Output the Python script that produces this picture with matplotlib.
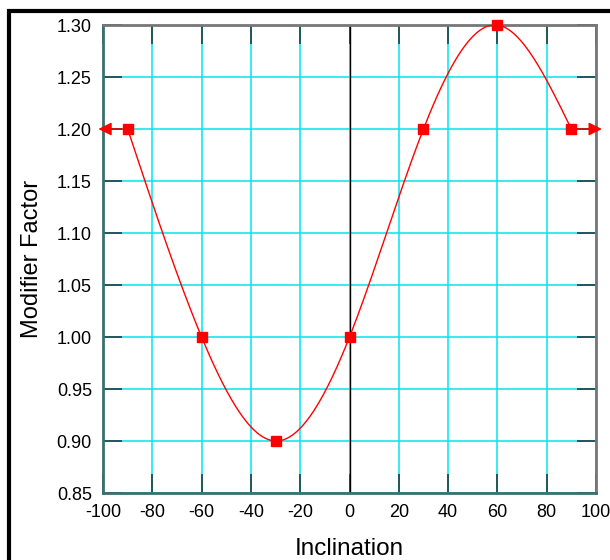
import numpy as np
import matplotlib.pyplot as plt
from matplotlib.patches import Rectangle

plt.rcParams['font.family'] = ['Liberation Sans', 'DejaVu Sans']

# data
inclination = [-90, -60, -30, 0, 30, 60, 90]
modifier = [1.20, 1.00, 0.90, 1.00, 1.20, 1.30, 1.20]
x_ticks = [-100, -80, -60, -40, -20, 0, 20, 40, 60, 80, 100]
y_ticks = [0.85, 0.90, 0.95, 1.00, 1.05, 1.10, 1.15, 1.20, 1.25, 1.30]


def natural_spline(xs, ys, n=300):
    # natural cubic spline through the points, for drawing the smooth curve
    xs = np.asarray(xs, float)
    ys = np.asarray(ys, float)
    k = len(xs)
    h = np.diff(xs)
    A = np.zeros((k, k))
    b = np.zeros(k)
    A[0, 0] = A[-1, -1] = 1
    for i in range(1, k - 1):
        A[i, i - 1] = h[i - 1]
        A[i, i] = 2 * (h[i - 1] + h[i])
        A[i, i + 1] = h[i]
        b[i] = 6 * ((ys[i + 1] - ys[i]) / h[i] - (ys[i] - ys[i - 1]) / h[i - 1])
    m = np.linalg.solve(A, b)
    xx = np.linspace(xs[0], xs[-1], n)
    idx = np.clip(np.searchsorted(xs, xx) - 1, 0, k - 2)
    x0, x1 = xs[idx], xs[idx + 1]
    hh = x1 - x0
    t0, t1 = x1 - xx, xx - x0
    yy = (m[idx] * t0 ** 3 / (6 * hh) + m[idx + 1] * t1 ** 3 / (6 * hh)
          + (ys[idx] / hh - m[idx] * hh / 6) * t0
          + (ys[idx + 1] / hh - m[idx + 1] * hh / 6) * t1)
    return xx, yy


fig = plt.figure(figsize=(6.1, 5.6), dpi=100)
ax = fig.add_axes([103 / 610, 1 - 493 / 560, 493 / 610, 468 / 560])

# outer frame
fig.patches.append(Rectangle((9 / 610, -0.1), 1.2, 1 - 11 / 560 + 0.1,
                             transform=fig.transFigure, fill=False,
                             edgecolor='black', linewidth=3))

ax.set_xlim(-100, 100)
ax.set_ylim(0.85, 1.30)
ax.set_xticks(x_ticks)
ax.set_yticks(y_ticks)
ax.set_xticklabels([str(v) for v in x_ticks])
ax.set_yticklabels(['%.2f' % v for v in y_ticks])
ax.grid(True, color='#00e5ee', linewidth=1.1, zorder=0)
ax.axvline(0, color='black', linewidth=1, zorder=1)
ax.tick_params(direction='in', length=14, width=1.2, color='#1f3f3f',
               labelsize=13, pad=8, top=True, right=True)
for s in ['left', 'bottom']:
    ax.spines[s].set_color('#3a7070')
    ax.spines[s].set_linewidth(2)
for s in ['right', 'top']:
    ax.spines[s].set_color('#777777')
    ax.spines[s].set_linewidth(2)
ax.set_axisbelow(True)

xx, yy = natural_spline(inclination, modifier)
ax.plot(xx, yy, color='red', linewidth=1, zorder=3)
ax.plot(inclination, modifier, 's', color='red', markersize=6.5, zorder=4,
        clip_on=False)

# end arrows
ax.annotate('', xy=(-103, modifier[0]), xytext=(inclination[0], modifier[0]),
            arrowprops=dict(arrowstyle='-|>', color='red', lw=1,
                            mutation_scale=20), annotation_clip=False)
ax.annotate('', xy=(103.5, modifier[-1]), xytext=(inclination[-1], modifier[-1]),
            arrowprops=dict(arrowstyle='-|>', color='red', lw=1,
                            mutation_scale=20), annotation_clip=False)

ax.set_xlabel('Inclination', fontsize=17.5, labelpad=12)
ax.set_ylabel('Modifier Factor', fontsize=17, labelpad=10)

fig.savefig('out.png', dpi=100)
